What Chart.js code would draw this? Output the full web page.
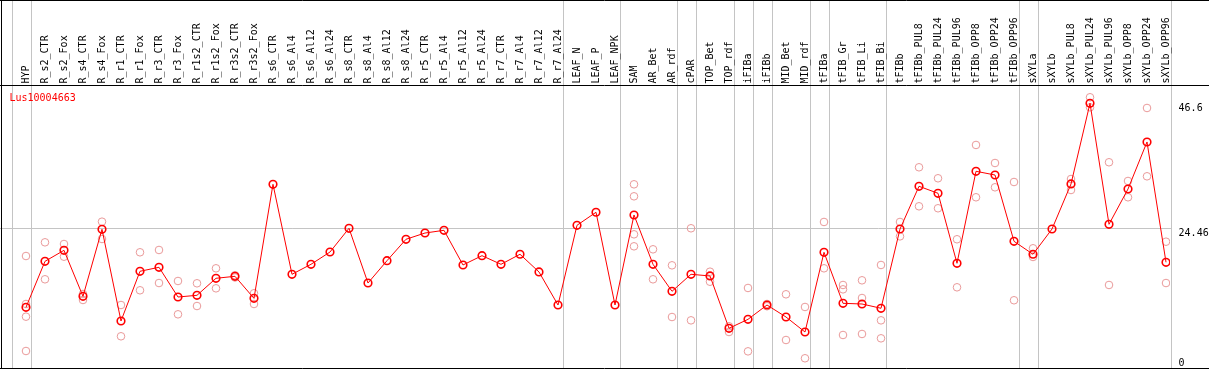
<!DOCTYPE html>
<html>
<head>
<meta charset="utf-8">
<script src="https://cdn.jsdelivr.net/npm/chart.js@4.4.1/dist/chart.umd.min.js"></script>
<style>
  html, body { margin: 0; padding: 0; background: #fff; }
  #wrap { width: 1209px; height: 370px; }
</style>
</head>
<body>
<div id="wrap"><canvas id="chart" width="1209" height="370"></canvas></div>
<script>
const geneName = 'Lus10004663';

const categories = [
  'HYP', 'R_s2_CTR', 'R_s2_Fox', 'R_s4_CTR', 'R_s4_Fox', 'R_r1_CTR', 'R_r1_Fox', 'R_r3_CTR', 'R_r3_Fox',
  'R_r1s2_CTR', 'R_r1s2_Fox', 'R_r3s2_CTR', 'R_r3s2_Fox', 'R_s6_CTR', 'R_s6_Al4', 'R_s6_Al12', 'R_s6_Al24',
  'R_s8_CTR', 'R_s8_Al4', 'R_s8_Al12', 'R_s8_Al24', 'R_r5_CTR', 'R_r5_Al4', 'R_r5_Al12', 'R_r5_Al24',
  'R_r7_CTR', 'R_r7_Al4', 'R_r7_Al12', 'R_r7_Al24', 'LEAF_N', 'LEAF_P', 'LEAF_NPK', 'SAM', 'AR_Bet', 'AR_rdf',
  'cPAR', 'TOP_Bet', 'TOP_rdf', 'iFIBa', 'iFIBb', 'MID_Bet', 'MID_rdf', 'tFIBa', 'tFIB_Gr', 'tFIB_Li', 'tFIB_Bi',
  'tFIBb', 'tFIBb_PUL8', 'tFIBb_PUL24', 'tFIBb_PUL96', 'tFIBb_OPP8', 'tFIBb_OPP24', 'tFIBb_OPP96',
  'sXYLa', 'sXYLb', 'sXYLb_PUL8', 'sXYLb_PUL24', 'sXYLb_PUL96', 'sXYLb_OPP8', 'sXYLb_OPP24', 'sXYLb_OPP96',
];

// mean expression per sample
const means = [
  10.41, 18.57, 20.52, 12.36, 24.25, 7.98, 16.8, 17.51, 12.24,
  12.54, 15.56, 15.91, 12.0, 32.23, 16.27, 18.04, 20.22,
  24.43, 14.72, 18.68, 22.48, 23.59, 24.07, 17.92, 19.57,
  18.04, 19.82, 16.68, 10.82, 24.96, 27.27, 10.82, 26.79, 18.04, 13.25,
  16.27, 15.97, 6.69, 8.28, 10.82, 8.69, 6.03, 20.17, 11.12, 11.0, 10.24,
  24.3, 31.88, 30.64, 18.22, 34.54, 33.88, 22.12,
  19.82, 24.3, 32.29, 46.6, 25.14, 31.4, 39.74, 18.4,
];

// individual replicate values per sample
const replicates = [
  [19.51, 11.0, 8.75, 2.66], [21.94, 15.38], [21.64, 19.39], [12.77, 11.71], [25.6, 22.53],
  [10.82, 5.27], [20.17, 13.43], [20.58, 14.72], [15.08, 9.17],
  [14.67, 10.64], [17.33, 13.78], [16.1, 15.7], [12.9, 11.0], [], [], [], [],
  [], [], [], [], [], [], [], [],
  [], [], [], [], [], [], [], [32.23, 30.1, 23.36, 21.23], [20.7, 15.38], [17.86, 8.69],
  [24.43, 8.1], [16.73, 14.95], [7.04, 6.03], [13.84, 2.6], [11.0, 10.6], [12.72, 4.61], [10.47, 1.37],
  [25.55, 17.33], [14.37, 13.6, 5.5], [15.2, 12.06, 5.68], [17.92, 8.1, 4.91],
  [25.55, 23.0], [35.25, 28.33], [33.3, 27.98], [22.48, 13.96], [39.21, 29.93], [36.01, 31.7], [32.64, 11.66],
  [20.88, 19.34], [], [33.17, 31.22], [47.67, 45.89], [36.14, 14.37], [32.82, 29.93], [45.77, 33.65], [22.05, 14.72],
];

// a grey separator follows each of these samples (plus one before the first)
const groupEnds = ['HYP', 'R_r7_Al24', 'LEAF_NPK', 'AR_rdf', 'cPAR', 'TOP_rdf', 'iFIBa', 'iFIBb',
  'MID_rdf', 'tFIBa', 'tFIB_Bi', 'tFIBb_OPP96', 'sXYLa', 'sXYLb_OPP96'];

const yTickValues = [46.6, 24.46, 0];
const refLine = 24.46;

const font = "10px 'DejaVu Sans Mono', 'Liberation Mono', monospace";
const sepColor = '#C4C4C4';

const frame = {
  id: 'frame',
  beforeDraw(chart) {
    const { ctx, width, scales: { x, y } } = chart;
    ctx.save();
    ctx.fillStyle = '#fff';
    ctx.fillRect(0, 0, width, chart.height);

    ctx.strokeStyle = sepColor;
    ctx.lineWidth = 1;
    const rightSep = Math.round(x.getPixelForValue(categories.length - 1 + 0.24)) + 0.5;
    const gy = Math.round(y.getPixelForValue(refLine)) + 0.5;
    ctx.beginPath();
    ctx.moveTo(0, gy);
    ctx.lineTo(rightSep, gy);
    ctx.stroke();

    const ends = [-1].concat(groupEnds.map(n => categories.indexOf(n)));
    ends.forEach(i => {
      const px = Math.round(x.getPixelForValue(i + 0.24)) + 0.5;
      ctx.beginPath();
      ctx.moveTo(px, 0);
      ctx.lineTo(px, 368);
      ctx.stroke();
    });
    ctx.restore();
  },
  afterDraw(chart) {
    const { ctx, width, chartArea, scales: { x, y } } = chart;
    ctx.save();
    ctx.strokeStyle = '#000';
    ctx.lineWidth = 1;
    ctx.beginPath();
    ctx.moveTo(0, 0.5); ctx.lineTo(width, 0.5);
    ctx.moveTo(0, 85.5); ctx.lineTo(width, 85.5);
    ctx.moveTo(0, 368.5); ctx.lineTo(width, 368.5);
    ctx.moveTo(1.5, 0); ctx.lineTo(1.5, 369);
    ctx.stroke();

    ctx.font = font;
    ctx.fillStyle = '#000';
    ctx.textAlign = 'left';
    ctx.textBaseline = 'middle';
    categories.forEach((name, i) => {
      ctx.save();
      ctx.translate(x.getPixelForValue(i), 83.5);
      ctx.rotate(-Math.PI / 2);
      ctx.fillText(name, 0, 0.5);
      ctx.restore();
    });

    ctx.textBaseline = 'alphabetic';
    const labelX = x.getPixelForValue(categories.length - 1 + 0.24) + 8;
    yTickValues.forEach(v => {
      const py = Math.min(y.getPixelForValue(v) + 8, chartArea.bottom);
      ctx.fillText(String(v), labelX, py);
    });

    ctx.fillStyle = '#FF0000';
    ctx.fillText(geneName, 9.5, 100.7);
    ctx.restore();
  },
};

const meanPoints = means.map((v, i) => ({ x: i, y: v }));
const repPoints = [];
replicates.forEach((list, i) => list.forEach(v => repPoints.push({ x: i, y: v })));

new Chart(document.getElementById('chart'), {
  type: 'scatter',
  data: {
    datasets: [
      {
        label: 'mean',
        data: meanPoints,
        showLine: true,
        borderColor: '#FF0000',
        borderWidth: 1,
        pointRadius: 3.8,
        pointBorderWidth: 1.6,
        pointBorderColor: '#FF0000',
        pointBackgroundColor: 'rgba(0,0,0,0)',
        order: 0,
      },
      {
        label: 'replicates',
        data: repPoints,
        showLine: false,
        pointRadius: 3.8,
        pointBorderWidth: 1,
        pointBorderColor: '#EA9A9A',
        pointBackgroundColor: 'rgba(0,0,0,0)',
        order: 1,
      },
    ],
  },
  options: {
    responsive: false,
    animation: false,
    devicePixelRatio: 1,
    layout: { autoPadding: false, padding: { left: 0, right: 39, top: 86, bottom: 4 } },
    plugins: { legend: { display: false }, tooltip: { enabled: false } },
    scales: {
      x: { type: 'linear', display: false, min: -1.368, max: 60.21 },
      y: { type: 'linear', display: false, min: 0, max: 49.67 },
    },
  },
  plugins: [frame],
});
</script>
</body>
</html>
